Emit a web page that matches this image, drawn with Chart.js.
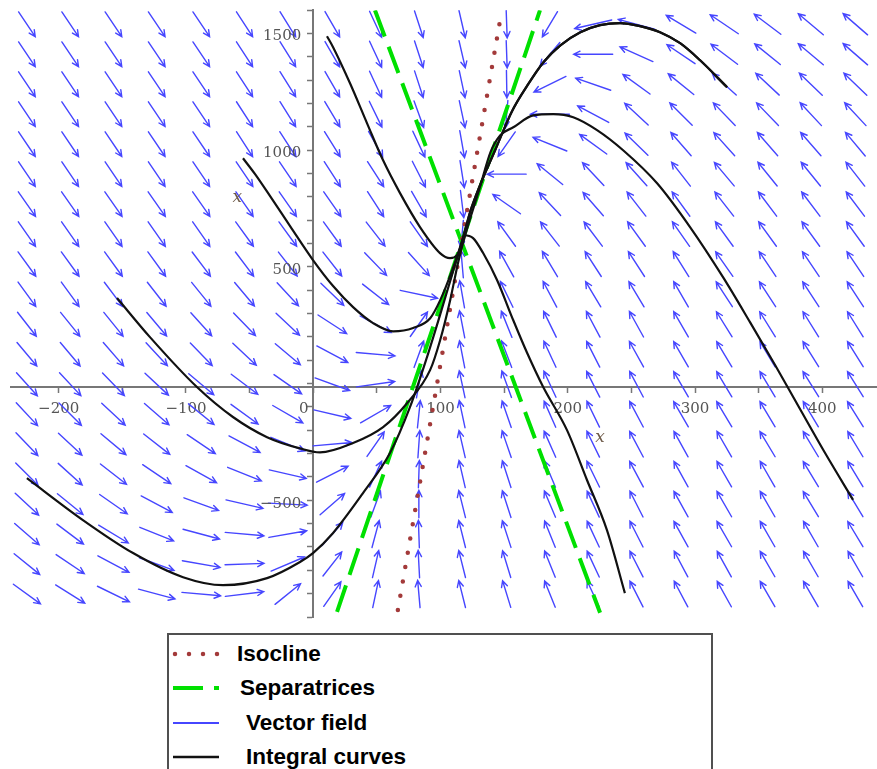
<!DOCTYPE html>
<html>
<head>
<meta charset="utf-8">
<script src="https://cdn.jsdelivr.net/npm/chart.js@4.4.1/dist/chart.umd.min.js"></script>
<style>
  html, body { margin: 0; padding: 0; background: #fff; }
  #wrap { position: relative; width: 877px; height: 769px; overflow: hidden; }
  #legend {
    position: absolute; left: 167px; top: 633px; width: 542px; height: 150px;
    border: 2px solid #505050; border-bottom: none; background: #fff;
    font: bold 22.5px "Liberation Sans", Arial, sans-serif; color: #000;
  }
  #legend svg { position: absolute; left: 0; top: 0; }
  #legend span { position: absolute; line-height: 30px; white-space: nowrap; }
</style>
</head>
<body>
<div id="wrap">
  <canvas id="chartCanvas" width="877" height="769"></canvas>
  <div id="legend">
    <svg width="60" height="140">
      <line x1="6" y1="19" x2="50" y2="19" stroke="#a33a3a" stroke-width="4.5" stroke-linecap="round" stroke-dasharray="0 14"/>
      <line x1="4" y1="53" x2="50" y2="53" stroke="#00e000" stroke-width="4" stroke-dasharray="30 11"/>
      <line x1="4" y1="88" x2="50" y2="88" stroke="#4646ff" stroke-width="2"/>
      <line x1="4" y1="122" x2="50" y2="122" stroke="#111" stroke-width="2.5"/>
    </svg>
    <span style="left:68px; top:4px">Isocline</span>
    <span style="left:71px; top:38px">Separatrices</span>
    <span style="left:77px; top:73px">Vector field</span>
    <span style="left:77px; top:107px">Integral curves</span>
  </div>
</div>
<script>
const xLabelled = [-200, -100, 0, 100, 200, 300, 400];
const yLabelled = [-500, 500, 1000, 1500];

// arrow grid (data coordinates)
const fieldX = [-225, -191, -157, -123, -88, -54, -20, 15, 49, 83, 117, 152, 186, 220, 254, 289, 323, 357, 391, 426];
const fieldY = [1551, 1423, 1295, 1167, 1039, 911, 783, 655, 527, 398, 270, 142, 14, -114, -242, -370, -498, -626, -754, -882];

// arrow direction on screen, degrees counter-clockwise from +x, one row per fieldY
const fieldAngle = [
  [-56,-56,-56,-56,-56,-57,-58,-60,-65,-72,-77,-88,-121,-167,165,149,146,143,140,139],
  [-56,-56,-56,-56,-56,-57,-58,-60,-65,-72,-77,-88,-130,180,156,146,143,141,140,139],
  [-56,-56,-56,-56,-56,-57,-58,-60,-65,-72,-78,-89,-154,161,144,141,138,137,136,136],
  [-56,-56,-56,-56,-56,-57,-58,-59,-64,-70,-78,-95,180,152,137,135,134,134,133,133],
  [-56,-56,-56,-56,-56,-57,-57,-58,-61,-65,-80,-125,158,144,136,131,132,131,131,130],
  [-56,-56,-56,-56,-56,-56,-56,-57,-57,-63,-81,180,141,133,132,128,130,129,129,128],
  [-55,-55,-55,-55,-55,-55,-55,-55,-57,-60,-83,145,133,131,128,126,128,127,127,127],
  [-55,-55,-55,-55,-55,-54,-54,-54,-52,-55,-95,126,128,127,126,125,126,126,126,126],
  [-54,-54,-54,-54,-53,-53,-52,-52,-46,-48,95,119,121,123,123,122,125,124,124,124],
  [-54,-54,-53,-52,-51,-50,-47,-44,-38,-12,100,116,118,121,121,120,123,123,123,123],
  [-52,-51,-51,-50,-48,-46,-43,-33,-28,55,101,112,116,118,119,120,122,122,122,122],
  [-50,-50,-49,-47,-46,-43,-40,-28,-5,70,101,111,115,117,119,120,121,121,122,122],
  [-48,-47,-46,-43,-40,-37,-35,-20,8,80,102,110,115,117,118,120,121,121,122,122],
  [-47,-45,-43,-41,-39,-36,-30,-13,30,84,102,109,114,116,118,120,121,121,121,122],
  [-46,-43,-40,-38,-34,-28,-22,5,55,86,103,109,114,116,118,119,120,121,121,121],
  [-45,-42,-38,-34,-29,-22,-13,27,65,88,103,108,113,116,118,119,120,120,121,121],
  [-43,-39,-35,-28,-20,-13,-3,41,70,90,104,108,113,115,117,119,120,120,121,121],
  [-41,-37,-31,-22,-15,-5,10,48,75,92,104,108,112,115,117,119,120,120,120,121],
  [-39,-34,-28,-20,-10,2,23,52,77,93,104,107,112,115,117,118,119,120,120,120],
  [-36,-32,-26,-15,-5,7,39,55,78,95,104,107,112,115,117,118,119,120,120,120]
];

// integral curves
const curve1 = [[10.8,1500],[15.6,1453],[28.9,1299],[42.3,1128],[54.8,971],[68.2,830],[83.9,685],[99.6,574],
  [107.5,552],[113,565],[116.9,616],[118.5,650],[125.6,638],[133.5,574],[144.5,458],[157.1,288],[168.1,147],
  [180.7,2],[199.4,-182],[215.1,-395],[230.8,-609],[244.9,-878]];
const curve2 = [[-55.2,979],[-45.7,911],[-33.9,817],[-18.2,689],[-0.2,544],[15.6,433],[31.3,343],[47,275],[62.7,240],
  [78.5,254],[91.9,296],[99.8,373],[109.2,501],[117.9,642]];
const curve3 = [[-154.2,382],[-128.3,215],[-91.4,2],[-63.1,-126],[-36.3,-212],[-10.4,-260],[5.3,-277],
  [31.3,-237],[54.9,-169],[73.7,-67],[91.8,74],[99.7,202],[107.6,373],[113.9,535],[119.4,650]];
const curve4 = [[-225,-387],[-181,-566],[-141.6,-707],[-102.3,-810],[-70.9,-844],[-36.3,-814],[-10.4,-745],[-0.2,-707],
  [15.6,-621],[39.1,-451],[60.3,-280],[76,-84],[89.4,130],[99.6,309],[109,480],[117.9,642]];
const topArc = [[123.2,748],[131.1,864],[142.9,1013],[156.2,1180],[168.4,1291],[180.9,1389],[194.2,1461],[209.9,1517],
  [225.4,1547],[241.1,1556],[256.8,1543],[272.5,1517],[288.3,1470],[304,1397],[325.2,1282]];
const secondArc = [[131,855],[139.3,1005],[147,1077],[157.2,1111],[172.9,1162],[188.6,1167],[204.3,1154],[223,1099],
  [243.5,1013],[270.2,872],[296.1,685],[322,471],[343.2,279],[362.9,96],[382.5,-92],[402.2,-280],[424.2,-480]];

const isocline = [[66.5,-950],[148,1605]];
const separatrix1 = [[18.7,-958],[178.2,1611]];
const separatrix2 = [[48.5,1611],[225.4,-962]];

const axisNames = [{ text: "x", at: [-59.7, 812] }, { text: "x", at: [225.4, -212] }];

const pts = a => a.map(p => ({ x: p[0], y: p[1] }));
const minus = v => String(v).replace("-", "\u2212");

function curveSet(data) {
  return { data: pts(data), showLine: true, borderColor: "#111", borderWidth: 2.2,
    pointRadius: 0, tension: 0.4, cubicInterpolationMode: "monotone", fill: false };
}

const fieldPlugin = {
  id: "field",
  beforeDatasetsDraw(chart) {
    const { ctx, chartArea, scales } = chart;
    const W = chartArea.width, H = chartArea.height;
    ctx.save();
    ctx.strokeStyle = "#4646ff";
    ctx.lineWidth = 1.4;
    ctx.lineCap = "round";
    fieldY.forEach((fy, j) => {
      fieldX.forEach((fx, i) => {
        const a = fieldAngle[j][i] * Math.PI / 180;
        const ux = Math.cos(a), uy = -Math.sin(a);
        const len = 0.045 / Math.hypot(ux / W, uy / H);
        const cx = scales.x.getPixelForValue(fx), cy = scales.y.getPixelForValue(fy);
        const x0 = cx - ux * len / 2, y0 = cy - uy * len / 2;
        const x1 = cx + ux * len / 2, y1 = cy + uy * len / 2;
        ctx.beginPath();
        ctx.moveTo(x0, y0);
        ctx.lineTo(x1, y1);
        const b = 7, h = 0.45;
        const back = Math.atan2(-uy, -ux);
        ctx.moveTo(x1 + b * Math.cos(back + h), y1 + b * Math.sin(back + h));
        ctx.lineTo(x1, y1);
        ctx.lineTo(x1 + b * Math.cos(back - h), y1 + b * Math.sin(back - h));
        ctx.stroke();
      });
    });
    ctx.restore();
  }
};

// axis names and the y tick labels (Chart.js skips labels on an axis placed at a value)
const textPlugin = {
  id: "texts",
  afterDraw(chart) {
    const { ctx, scales } = chart;
    ctx.save();
    ctx.font = "italic 17px 'DejaVu Serif'";
    ctx.fillStyle = "#6e5a48";
    ctx.textAlign = "center";
    ctx.textBaseline = "middle";
    axisNames.forEach(n => ctx.fillText(n.text, scales.x.getPixelForValue(n.at[0]), scales.y.getPixelForValue(n.at[1])));
    ctx.font = "15px 'DejaVu Serif'";
    ctx.fillStyle = "#555";
    ctx.textAlign = "right";
    const x0 = scales.x.getPixelForValue(0) - 12;
    yLabelled.forEach(v => ctx.fillText(minus(v), x0, scales.y.getPixelForValue(v)));
    ctx.restore();
  }
};

new Chart(document.getElementById("chartCanvas"), {
  type: "scatter",
  data: {
    datasets: [
      curveSet(curve1),
      curveSet(curve2.concat(topArc)),
      curveSet(curve3.concat(secondArc)),
      curveSet(curve4.concat(topArc)),
      { data: pts(isocline), showLine: true, borderColor: "#a33a3a", borderWidth: 4.5,
        borderDash: [0, 14.5], borderCapStyle: "round", pointRadius: 0 },
      { data: pts(separatrix1), showLine: true, borderColor: "#00e000", borderWidth: 4,
        borderDash: [28, 11], pointRadius: 0 },
      { data: pts(separatrix2), showLine: true, borderColor: "#00e000", borderWidth: 4,
        borderDash: [28, 11], pointRadius: 0 }
    ]
  },
  options: {
    responsive: false,
    animation: false,
    layout: { padding: { left: 11, right: 0, top: 10, bottom: 152 } },
    plugins: { legend: { display: false }, tooltip: { enabled: false } },
    scales: {
      x: {
        type: "linear", min: -237.5, max: 443, position: { y: 0 },
        grid: { drawOnChartArea: false, drawTicks: true, tickLength: 5, tickColor: "#777", tickWidth: 1.5 },
        border: { display: true, color: "#777", width: 2 },
        ticks: { stepSize: 50, includeBounds: false, autoSkip: false, maxRotation: 0, padding: 8,
          color: "#555", font: { family: "DejaVu Serif", size: 15 },
          callback: v => { const r = Math.round(v); return xLabelled.includes(r) ? (r === 0 ? "0    " : minus(r)) : ""; } }
      },
      y: {
        type: "linear", min: -980, max: 1611, position: { x: 0 },
        grid: { drawOnChartArea: false, drawTicks: true, tickLength: 5, tickColor: "#777", tickWidth: 1.5 },
        border: { display: true, color: "#777", width: 2 },
        ticks: { stepSize: 100, includeBounds: false, autoSkip: false, callback: () => "" }
      }
    }
  },
  plugins: [fieldPlugin, textPlugin]
});
</script>
</body>
</html>
